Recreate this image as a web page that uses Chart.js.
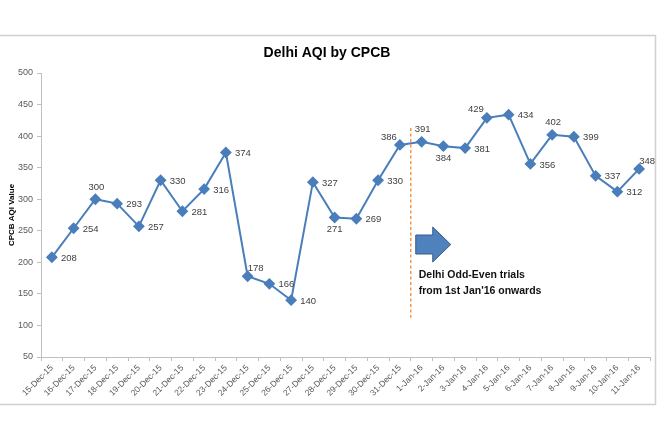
<!DOCTYPE html>
<html>
<head>
<meta charset="utf-8">
<script src="https://cdn.jsdelivr.net/npm/chart.js@4/dist/chart.umd.min.js"></script>
<style>
  html, body { margin: 0; padding: 0; background: #ffffff; }
  #wrap { width: 660px; height: 440px; }
</style>
</head>
<body>
<div id="wrap"><canvas id="c" width="660" height="440"></canvas></div>
<script>
const categories = ["15-Dec-15","16-Dec-15","17-Dec-15","18-Dec-15","19-Dec-15","20-Dec-15","21-Dec-15","22-Dec-15","23-Dec-15","24-Dec-15","25-Dec-15","26-Dec-15","27-Dec-15","28-Dec-15","29-Dec-15","30-Dec-15","31-Dec-15","1-Jan-16","2-Jan-16","3-Jan-16","4-Jan-16","5-Jan-16","6-Jan-16","7-Jan-16","8-Jan-16","9-Jan-16","10-Jan-16","11-Jan-16"];
const aqiValues = [208,254,300,293,257,330,281,316,374,178,166,140,327,271,269,330,386,391,384,381,429,434,356,402,399,337,312,348];
// label placement: r = right, a = above, al = above-left, ar = above-right, b = below
const labelPlacement = ["r","r","a","r","r","r","r","r","r","ar","r","r","r","b","r","r","al","a","b","r","al","r","r","a","r","r","r","ar"];
const yTicks = [50,100,150,200,250,300,350,400,450,500];
const chartTitle = "Delhi AQI by CPCB";
const yAxisTitle = "CPCB AQI Value";
const noteLines = ["Delhi Odd-Even trials", "from 1st Jan'16 onwards"];
const dividerIndex = 16.5;      // between 31-Dec-15 and 1-Jan-16
const dividerRange = [112, 413]; // AQI values spanned by the dashed line

const FONT = '"Liberation Sans", Arial, sans-serif';

const decor = {
  id: 'decor',
  beforeDraw(chart) {
    const ctx = chart.ctx;
    ctx.save();
    ctx.fillStyle = '#ffffff';
    ctx.fillRect(0, 0, chart.width, chart.height);
    ctx.strokeStyle = '#d0d0d0';
    ctx.lineWidth = 1.5;
    ctx.beginPath();
    ctx.moveTo(0, 35.5); ctx.lineTo(655.5, 35.5); ctx.lineTo(655.5, 404.5); ctx.lineTo(0, 404.5);
    ctx.stroke();
    ctx.restore();
  },
  afterDatasetsDraw(chart) {
    const ctx = chart.ctx;
    const xs = chart.scales.x, ys = chart.scales.y;
    const meta = chart.getDatasetMeta(0);
    ctx.save();
    // title
    ctx.fillStyle = '#000000';
    ctx.font = 'bold 14px ' + FONT;
    ctx.textAlign = 'center';
    ctx.textBaseline = 'middle';
    ctx.fillText(chartTitle, 327, 53);
    // y axis title
    ctx.save();
    ctx.translate(12, (chart.chartArea.top + chart.chartArea.bottom) / 2);
    ctx.rotate(-Math.PI / 2);
    ctx.font = 'bold 8px ' + FONT;
    ctx.fillStyle = '#000000';
    ctx.fillText(yAxisTitle, 0, 0);
    ctx.restore();
    // point labels
    ctx.font = '9.5px ' + FONT;
    ctx.fillStyle = '#404040';
    ctx.textBaseline = 'middle';
    meta.data.forEach((pt, i) => {
      const p = labelPlacement[i];
      const txt = String(aqiValues[i]);
      ctx.textAlign = 'center';
      if (p === 'r') {
        ctx.textAlign = 'left';
        ctx.fillText(txt, pt.x + 9, pt.y + 1);
      } else if (p === 'a') {
        ctx.fillText(txt, pt.x + 1, pt.y - 12);
      } else if (p === 'al') {
        ctx.fillText(txt, pt.x - 11, pt.y - 8);
      } else if (p === 'ar') {
        ctx.fillText(txt, pt.x + 8, pt.y - 8);
      } else {
        ctx.fillText(txt, pt.x, pt.y + 12);
      }
    });
    // divider
    const dx = xs.getPixelForValue(dividerIndex);
    ctx.strokeStyle = '#f79646';
    ctx.lineWidth = 1.5;
    ctx.setLineDash([3, 2.5]);
    ctx.beginPath();
    ctx.moveTo(dx, ys.getPixelForValue(dividerRange[1]));
    ctx.lineTo(dx, ys.getPixelForValue(dividerRange[0]));
    ctx.stroke();
    ctx.setLineDash([]);
    // block arrow
    const ax = dx + 5, ay = 227;
    ctx.beginPath();
    ctx.moveTo(ax, ay + 8);
    ctx.lineTo(ax + 17, ay + 8);
    ctx.lineTo(ax + 17, ay);
    ctx.lineTo(ax + 35, ay + 17.5);
    ctx.lineTo(ax + 17, ay + 35);
    ctx.lineTo(ax + 17, ay + 27);
    ctx.lineTo(ax, ay + 27);
    ctx.closePath();
    ctx.fillStyle = '#4f81bd';
    ctx.fill();
    ctx.strokeStyle = '#385d8a';
    ctx.lineWidth = 1;
    ctx.stroke();
    // note text
    ctx.fillStyle = '#111111';
    ctx.font = 'bold 10.5px ' + FONT;
    ctx.textAlign = 'left';
    ctx.textBaseline = 'middle';
    ctx.fillText(noteLines[0], dx + 8, 275);
    ctx.fillText(noteLines[1], dx + 8, 291);
    ctx.restore();
  }
};

new Chart(document.getElementById('c'), {
  type: 'line',
  data: {
    labels: categories,
    datasets: [{
      data: aqiValues,
      borderColor: '#4a7ebb',
      backgroundColor: '#4a7ebb',
      borderWidth: 2,
      tension: 0,
      pointStyle: 'rectRot',
      pointRadius: 4.5,
      pointHoverRadius: 4.5,
      pointBackgroundColor: '#4a7ebb',
      pointBorderColor: '#4a7ebb',
      fill: false
    }]
  },
  options: {
    responsive: false,
    animation: false,
    devicePixelRatio: 1,
    layout: { padding: { top: 73, right: 10, bottom: 36, left: 0 } },
    plugins: { legend: { display: false }, tooltip: { enabled: false }, title: { display: false } },
    scales: {
      x: {
        type: 'category',
        offset: true,
        grid: { offset: true, drawOnChartArea: false, drawTicks: true, tickLength: 4, color: '#bfbfbf' },
        border: { color: '#bfbfbf', width: 1 },
        ticks: {
          autoSkip: false, maxRotation: 45, minRotation: 45, padding: 2,
          color: '#595959', font: { family: FONT, size: 8.5 }
        },
        afterFit(scale) { scale.height = 47; }
      },
      y: {
        min: 50, max: 500,
        afterBuildTicks(scale) { scale.ticks = yTicks.map(v => ({ value: v })); },
        grid: { drawOnChartArea: false, drawTicks: true, tickLength: 4, color: '#bfbfbf' },
        border: { color: '#bfbfbf', width: 1 },
        ticks: { padding: 4, color: '#595959', font: { family: FONT, size: 9 } },
        afterFit(scale) { scale.width = 41; }
      }
    }
  },
  plugins: [decor]
});
</script>
</body>
</html>
